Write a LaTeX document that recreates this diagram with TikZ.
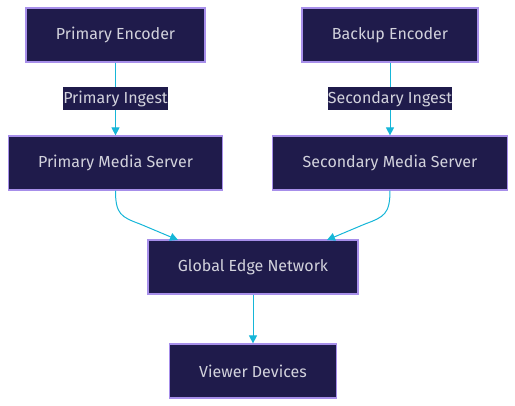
\documentclass[tikz,border=0pt]{standalone}
\usepackage{fontspec}
\setmainfont{Fira Sans}
\usetikzlibrary{arrows.meta}
\definecolor{boxfill}{HTML}{1F1B4B}
\definecolor{boxline}{HTML}{A78FEA}
\definecolor{boxtext}{HTML}{D2D2DC}
\definecolor{edgecol}{HTML}{16B6D8}
\tikzset{
  box/.style={draw=boxline, line width=1.2pt, fill=boxfill, text=boxtext, inner sep=0pt, minimum height=54pt, font=\fontsize{16pt}{19pt}\selectfont},
  elabel/.style={fill=boxfill, text=boxtext, inner sep=0pt, minimum height=23pt, font=\fontsize{16pt}{19pt}\selectfont},
  conn/.style={draw=edgecol, line width=1pt, -{Triangle[length=8pt,width=8pt]}}
}
\begin{document}
\begin{tikzpicture}[x=1pt,y=-1pt]
\useasboundingbox (0,0) rectangle (515,406);
\node[box, minimum width=179pt] (pe) at (115.5,35) {Primary Encoder};
\node[box, minimum width=176pt] (be) at (390,35) {Backup Encoder};
\node[box, minimum width=214pt] (pms) at (115.5,163) {Primary Media Server};
\node[box, minimum width=235pt] (sms) at (390,163) {Secondary Media Server};
\node[box, minimum width=210pt] (gen) at (253,267) {Global Edge Network};
\node[box, minimum width=167pt] (vd) at (253,371) {Viewer Devices};
\coordinate (gl) at (178,240);
\coordinate (gr) at (327,240);
\draw[conn] (pe.south) -- node[elabel, minimum width=105pt] (pi) {Primary Ingest} (pms.north);
\draw[conn] (be.south) -- node[elabel, minimum width=124pt] (si) {Secondary Ingest} (sms.north);
\draw[conn] (pms.south) .. controls (115.5,214) and (121,217) .. (140,224) -- (gl);
\draw[conn] (sms.south) .. controls (390,214) and (384,217) .. (365,224) -- (gr);
\draw[conn] (gen.south) -- (vd.north);
\end{tikzpicture}
\end{document}
